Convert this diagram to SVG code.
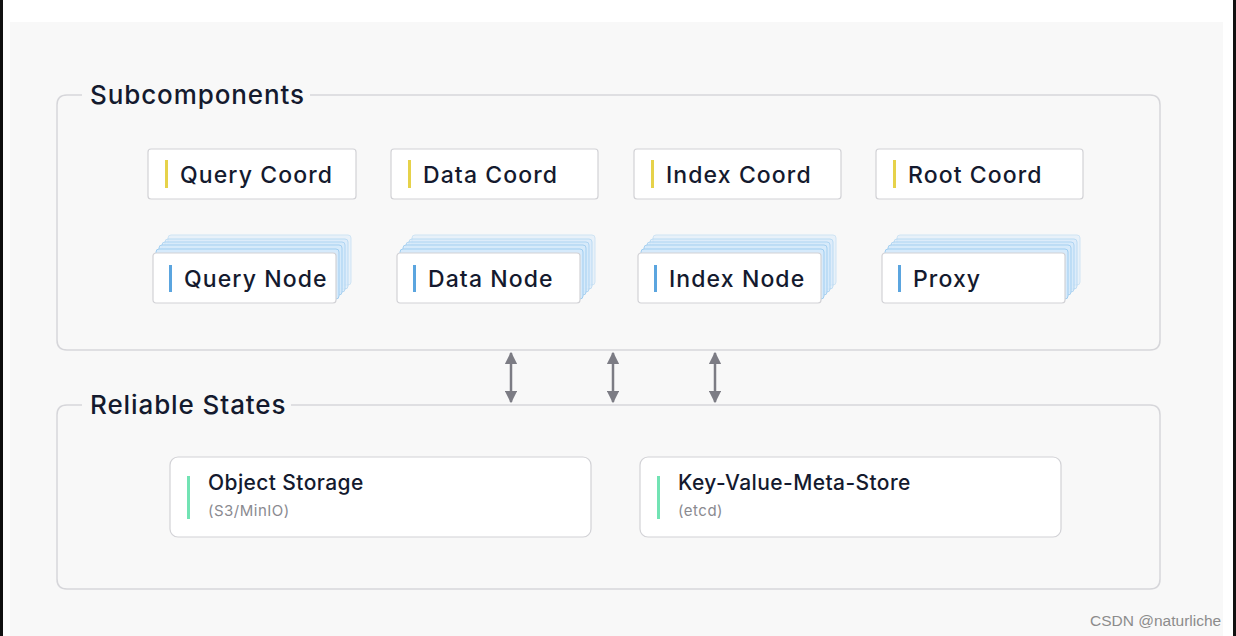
<svg xmlns="http://www.w3.org/2000/svg" width="1236" height="636" viewBox="0 0 1236 636">
<defs>
<style>
.frame{fill:none;stroke:#d6d6da;stroke-width:1.5}
.title{font-family:Inter,"Noto Sans",sans-serif;font-size:26px;font-weight:500;fill:#141a2e;letter-spacing:0.9px}
.box{fill:#ffffff;stroke:#d2d2d6;stroke-width:1.2}
.lbl{font-family:Inter,"Noto Sans",sans-serif;font-size:23px;font-weight:500;fill:#141a2e;letter-spacing:1.1px}
.lbl2{font-family:Inter,"Noto Sans",sans-serif;font-size:21px;font-weight:500;fill:#141a2e;letter-spacing:0.4px}
.sub{font-family:Inter,"Noto Sans",sans-serif;font-size:15px;fill:#8a8a90;letter-spacing:0.5px}
.ybar{fill:#e6d24a}
.bbar{fill:#5ba5df}
.gbar{fill:#72e3b4}
.layer{fill:#d6eafb;stroke:#9fcdf0;stroke-width:1}
.conn{stroke:#7c7c84;stroke-width:2.5;fill:none;marker-start:url(#ah);marker-end:url(#ah)}
</style>
<marker id="ah" viewBox="0 0 10 10" refX="9" refY="5" markerWidth="5" markerHeight="5" orient="auto-start-reverse" markerUnits="strokeWidth">
<path d="M0,0 L10,5 L0,10 Z" fill="#7c7c84"/>
</marker>
<g id="stack">
<rect class="layer" x="15" y="-18" width="183" height="50" rx="3" opacity="0.45"/>
<rect class="layer" x="12" y="-14" width="183" height="50" rx="3" opacity="0.6"/>
<rect class="layer" x="9" y="-11" width="183" height="50" rx="3" opacity="0.75"/>
<rect class="layer" x="6" y="-8" width="183" height="50" rx="3" opacity="0.9"/>
<rect class="layer" x="3" y="-4" width="183" height="50" rx="3"/>
<rect class="box" x="0" y="0" width="183" height="50" rx="3"/>
<rect class="bbar" x="16" y="12" width="3" height="27"/>
</g>
</defs>
<rect x="0" y="0" width="1236" height="636" fill="#ffffff"/>
<rect x="10" y="22" width="1213" height="614" fill="#f8f8f8"/>
<rect x="0" y="0" width="3" height="636" fill="#111111"/>
<rect x="1233" y="0" width="3" height="636" fill="#111111"/>

<g id="subcomponents">
<path class="frame" d="M82,95 H67 Q57,95 57,105 V340 Q57,350 67,350 H1150 Q1160,350 1160,340 V105 Q1160,95 1150,95 H310"/>
<text class="title" x="90" y="104">Subcomponents</text>
</g>

<g id="query-coord"><rect class="box" x="148" y="149" width="208" height="50" rx="3"/><rect class="ybar" x="165" y="160" width="3" height="28"/><text class="lbl" x="180" y="183">Query Coord</text></g>
<g id="data-coord"><rect class="box" x="391" y="149" width="207" height="50" rx="3"/><rect class="ybar" x="408" y="160" width="3" height="28"/><text class="lbl" x="423" y="183">Data Coord</text></g>
<g id="index-coord"><rect class="box" x="634" y="149" width="207" height="50" rx="3"/><rect class="ybar" x="651" y="160" width="3" height="28"/><text class="lbl" x="666" y="183">Index Coord</text></g>
<g id="root-coord"><rect class="box" x="876" y="149" width="207" height="50" rx="3"/><rect class="ybar" x="893" y="160" width="3" height="28"/><text class="lbl" x="908" y="183">Root Coord</text></g>

<g id="query-node"><use href="#stack" x="153" y="253"/><text class="lbl" x="184" y="287">Query Node</text></g>
<g id="data-node"><use href="#stack" x="397" y="253"/><text class="lbl" x="428" y="287">Data Node</text></g>
<g id="index-node"><use href="#stack" x="638" y="253"/><text class="lbl" x="669" y="287">Index Node</text></g>
<g id="proxy"><use href="#stack" x="882" y="253"/><text class="lbl" x="913" y="287">Proxy</text></g>

<g id="connectors">
<line class="conn" x1="511" y1="353" x2="511" y2="402"/>
<line class="conn" x1="613" y1="353" x2="613" y2="402"/>
<line class="conn" x1="715" y1="353" x2="715" y2="402"/>
</g>

<g id="reliable-states">
<path class="frame" d="M82,405 H67 Q57,405 57,415 V579 Q57,589 67,589 H1150 Q1160,589 1160,579 V415 Q1160,405 1150,405 H291"/>
<text class="title" x="90" y="414" letter-spacing="0.6">Reliable States</text>
</g>

<g id="object-storage"><rect class="box" x="170" y="457" width="421" height="80" rx="8"/><rect class="gbar" x="187" y="476" width="3" height="43"/><text class="lbl2" x="208" y="490">Object Storage</text><text class="sub" x="208" y="516">(S3/MinIO)</text></g>
<g id="kv-meta-store"><rect class="box" x="640" y="457" width="421" height="80" rx="8"/><rect class="gbar" x="657" y="476" width="3" height="43"/><text class="lbl2" x="678" y="490">Key-Value-Meta-Store</text><text class="sub" x="678" y="516">(etcd)</text></g>

<text x="1090" y="626" font-family="Liberation Sans,Arial,sans-serif" font-size="15.5" fill="#8c8c8c">CSDN @naturliche</text>
</svg>
